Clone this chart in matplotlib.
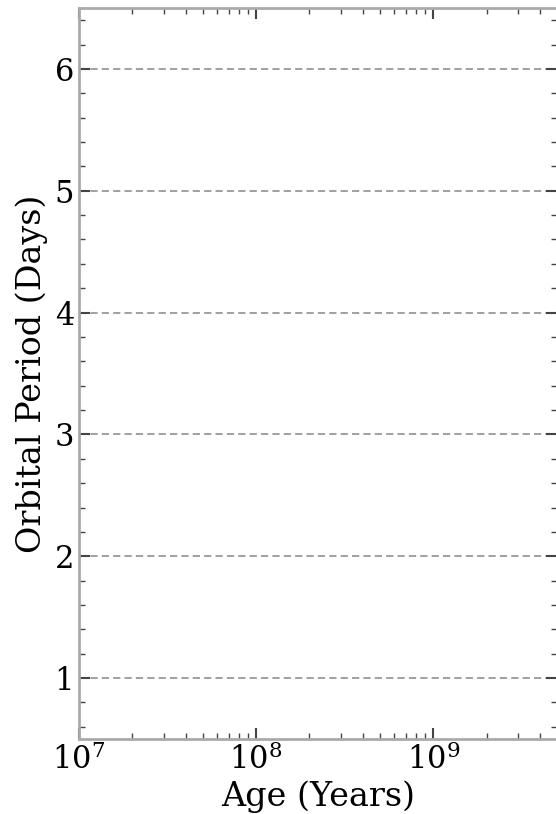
import matplotlib
matplotlib.use("Agg")
import matplotlib.pyplot as plt
from matplotlib.ticker import LogLocator, MultipleLocator, NullFormatter

# axis ranges and grid levels
x_range = [1e7, 5e9]
y_range = [0.5, 6.5]
y_grid = [1, 2, 3, 4, 5, 6]

plt.rcParams['font.family'] = ['DejaVu Serif']
plt.rcParams['mathtext.fontset'] = 'dejavuserif'

fig = plt.figure(figsize=(5.56, 8.14), dpi=100)
ax = fig.add_axes([79/556, 1 - 739/814, (557 - 79)/556, (739 - 8)/814])

ax.set_xscale('log')
ax.set_xlim(x_range)
ax.set_ylim(y_range)

for y in y_grid:
    ax.axhline(y, color='#999999', linestyle=(0, (4, 2.3)), linewidth=1.3, zorder=0)

ax.xaxis.set_major_locator(LogLocator(base=10, numticks=10))
ax.xaxis.set_minor_locator(LogLocator(base=10, subs=range(2, 10), numticks=20))
ax.xaxis.set_minor_formatter(NullFormatter())
ax.yaxis.set_major_locator(MultipleLocator(1))
ax.yaxis.set_minor_locator(MultipleLocator(0.2))

ax.tick_params(which='both', direction='in', top=True, right=True, color='#444444')
ax.tick_params(which='major', length=8, width=1.5, labelsize=22)
ax.tick_params(which='minor', length=4, width=1.0)

for s in ax.spines.values():
    s.set_color('#aaaaaa')
    s.set_linewidth(2)

ax.set_xlabel('Age (Years)', fontsize=24, labelpad=3)
ax.set_ylabel('Orbital Period (Days)', fontsize=24, labelpad=5)

fig.savefig('out.png', dpi=100)
